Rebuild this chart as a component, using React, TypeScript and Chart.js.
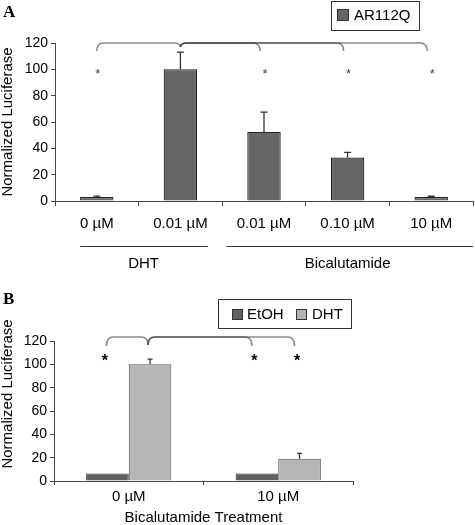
import React, { useEffect, useRef } from "react";
import { Chart, registerables } from "chart.js";

Chart.register(...registerables);

const FONT = "'Liberation Sans', Arial, Helvetica, sans-serif";
const SERIF = "'Liberation Serif', 'Times New Roman', serif";

// ---------- Panel A data ----------
const categoriesA = ["0 µM", "0.01 µM", "0.01 µM", "0.10 µM", "10 µM"];
const valuesA = [3, 100, 52.5, 33, 3];
const errorsA = [0.7, 13, 15, 4, 0.6];
const seriesNameA = "AR112Q";
const groupNamesA = ["DHT", "Bicalutamide"];
const groupSpanA = [
  [-0.2, 1.33, 0.56],
  [1.55, 4.5, 3.0],
];
const starsA = [0, 2, 3, 4];
const bracketsA = [
  [0, 1],
  [1, 2],
  [1, 3],
  [1, 4],
];

// ---------- Panel B data ----------
const categoriesB = ["0 µM", "10 µM"];
const seriesNamesB = ["EtOH", "DHT"];
const etohB = [6.5, 6.5];
const dhtB = [100, 19];
const etohErrB = [0, 0];
const dhtErrB = [4.4, 4.6];
// [datasetIndex, categoryIndex]
const starsB = [
  [0, 0],
  [0, 1],
  [1, 1],
];
const bracketsB = [
  [[0, 0], [1, 0]],
  [[1, 0], [0, 1]],
  [[1, 0], [1, 1]],
];

const yAxisTitle = "Normalized Luciferase";
const xAxisTitleB = "Bicalutamide Treatment";

function drawErrorBars(chart: any, ctx: CanvasRenderingContext2D, ds: number, errs: number[], capHalf: number) {
  const meta = chart.getDatasetMeta(ds);
  const ys = chart.scales.y;
  const vals = chart.data.datasets[ds].data as number[];
  ctx.strokeStyle = "#333";
  ctx.lineWidth = 1.3;
  meta.data.forEach((bar: any, i: number) => {
    const e = errs[i];
    if (!e) return;
    const top = ys.getPixelForValue(vals[i] + e);
    ctx.beginPath();
    ctx.moveTo(bar.x, bar.y);
    ctx.lineTo(bar.x, top);
    ctx.moveTo(bar.x - capHalf, top);
    ctx.lineTo(bar.x + capHalf, top);
    ctx.stroke();
  });
}

function drawBracket(ctx: CanvasRenderingContext2D, x1: number, x2: number, yTop: number, tip1: number, tip2: number, r: number) {
  ctx.beginPath();
  ctx.moveTo(x1, tip1);
  ctx.quadraticCurveTo(x1, yTop, x1 + r, yTop);
  ctx.lineTo(x2 - r, yTop);
  ctx.quadraticCurveTo(x2, yTop, x2, tip2);
  ctx.stroke();
}

const decorA = {
  id: "decorA",
  afterDraw(chart: any) {
    const ctx: CanvasRenderingContext2D = chart.ctx;
    const xs = chart.scales.x;
    const ys = chart.scales.y;
    const meta = chart.getDatasetMeta(0);
    ctx.save();
    drawErrorBars(chart, ctx, 0, errorsA, 3.5);

    // brackets
    ctx.strokeStyle = "rgba(60,60,60,0.6)";
    ctx.lineWidth = 1.6;
    const yTop = ys.getPixelForValue(120);
    bracketsA.forEach(([a, b]) => {
      const xa = meta.data[a].x;
      const xb = meta.data[b].x - (b > 1 ? 4 : 0);
      const tipA = ys.getPixelForValue(a === 1 ? 117 : 114);
      const tipB = ys.getPixelForValue(b === 1 ? 117 : 114);
      drawBracket(ctx, xa, xb, yTop, tipA, tipB, 7);
    });

    // stars
    ctx.fillStyle = "#444";
    ctx.font = `13px ${FONT}`;
    ctx.textAlign = "center";
    ctx.textBaseline = "middle";
    starsA.forEach((i) => {
      ctx.fillText("*", meta.data[i].x + 1, ys.getPixelForValue(98.7) + 3);
    });

    // group labels under the axis
    const x0 = xs.getPixelForValue(0);
    const step = xs.getPixelForValue(1) - x0;
    const lineY = xs.bottom - 29;
    ctx.strokeStyle = "#333";
    ctx.lineWidth = 1;
    ctx.fillStyle = "#000";
    ctx.font = `15px ${FONT}`;
    groupNamesA.forEach((name, g) => {
      const [f, t, c] = groupSpanA[g];
      ctx.beginPath();
      ctx.moveTo(x0 + f * step, lineY + 0.5);
      ctx.lineTo(x0 + t * step, lineY + 0.5);
      ctx.stroke();
      ctx.fillText(name, x0 + c * step, lineY + 18);
    });

    // legend
    ctx.strokeStyle = "#333";
    ctx.lineWidth = 1;
    ctx.strokeRect(331.5, 1.5, 88, 29);
    ctx.fillStyle = "#666";
    ctx.fillRect(337.5, 9.5, 11, 11);
    ctx.strokeRect(337.5, 9.5, 11, 11);
    ctx.fillStyle = "#000";
    ctx.textAlign = "left";
    ctx.font = `15px ${FONT}`;
    ctx.fillText(seriesNameA, 354, 16);

    // panel letter
    ctx.font = `bold 17px ${SERIF}`;
    ctx.textBaseline = "alphabetic";
    ctx.fillText("A", 3, 17);
    ctx.restore();
  },
};

const decorB = {
  id: "decorB",
  afterDraw(chart: any) {
    const ctx: CanvasRenderingContext2D = chart.ctx;
    const ys = chart.scales.y;
    const m0 = chart.getDatasetMeta(0);
    const m1 = chart.getDatasetMeta(1);
    const metas = [m0, m1];
    ctx.save();
    drawErrorBars(chart, ctx, 0, etohErrB, 2.5);
    drawErrorBars(chart, ctx, 1, dhtErrB, 2.5);

    ctx.strokeStyle = "rgba(60,60,60,0.6)";
    ctx.lineWidth = 1.6;
    const yTop = ys.getPixelForValue(123.4);
    bracketsB.forEach(([a, b]) => {
      const xa = metas[a[0]].data[a[1]].x - (a[1] === 0 && a[0] === 0 ? 1 : 2);
      const xb = metas[b[0]].data[b[1]].x - (b[1] === 1 ? 5 : 2);
      const tipA = ys.getPixelForValue(a[0] === 1 ? 116.5 : 115.7);
      const tipB = ys.getPixelForValue(b[0] === 1 && b[1] === 0 ? 116.5 : 115.7);
      drawBracket(ctx, xa, xb, yTop, tipA, tipB, 7);
    });

    ctx.fillStyle = "#000";
    ctx.font = `bold 16px ${FONT}`;
    ctx.textAlign = "center";
    ctx.textBaseline = "middle";
    starsB.forEach(([d, i]) => {
      ctx.fillText("*", metas[d].data[i].x - 2.5, ys.getPixelForValue(105.5) + 3.5);
    });

    // y axis title
    ctx.save();
    ctx.translate(8, 119);
    ctx.rotate(-Math.PI / 2);
    ctx.font = `15px ${FONT}`;
    ctx.fillText(yAxisTitle, 0, 0);
    ctx.restore();

    // legend
    ctx.strokeStyle = "#333";
    ctx.lineWidth = 1;
    ctx.strokeRect(218.5, 24.5, 133, 29);
    ctx.fillStyle = "#5f5f5f";
    ctx.fillRect(232.5, 34.5, 10, 10);
    ctx.strokeRect(232.5, 34.5, 10, 10);
    ctx.fillStyle = "#b5b5b5";
    ctx.fillRect(296.5, 34.5, 10, 10);
    ctx.strokeRect(296.5, 34.5, 10, 10);
    ctx.fillStyle = "#000";
    ctx.textAlign = "left";
    ctx.font = `15px ${FONT}`;
    ctx.fillText(seriesNamesB[0], 247, 40);
    ctx.fillText(seriesNamesB[1], 312, 40);

    ctx.font = `bold 17px ${SERIF}`;
    ctx.textBaseline = "alphabetic";
    ctx.fillText("B", 3, 29);
    ctx.restore();
  },
};

function axisCommon(tl: number) {
  return {
    grid: { drawOnChartArea: false, drawTicks: true, tickLength: tl, color: "#444", lineWidth: 1 },
    border: { display: true, color: "#444", width: 1 },
  };
}

export default function App() {
  const refA = useRef<HTMLCanvasElement>(null);
  const refB = useRef<HTMLCanvasElement>(null);

  useEffect(() => {
    const chartA = new Chart(refA.current!, {
      type: "bar",
      data: {
        labels: categoriesA,
        datasets: [
          {
            label: seriesNameA,
            data: valuesA,
            backgroundColor: "#666666",
            borderColor: "#222",
            borderWidth: 1.2,
            barPercentage: 0.4,
            categoryPercentage: 1,
          },
        ],
      },
      options: {
        animation: false,
        responsive: false,
        devicePixelRatio: 1,
        layout: { padding: { left: 0, right: 2, top: 43, bottom: 0 } },
        plugins: { legend: { display: false }, tooltip: { enabled: false } },
        scales: {
          x: {
            ...axisCommon(5),
            ticks: { color: "#000", font: { family: FONT, size: 15 }, padding: 9, maxRotation: 0, autoSkip: false },
            afterFit: (s: any) => {
              s.height = 74;
            },
          },
          y: {
            ...axisCommon(4),
            min: 0,
            max: 120,
            ticks: { stepSize: 20, color: "#000", font: { family: FONT, size: 14 }, padding: 3 },
            title: {
              display: true,
              text: yAxisTitle,
              color: "#000",
              font: { family: FONT, size: 15, lineHeight: 1.1 },
              padding: 0,
            },
            afterFit: (s: any) => {
              s.width = 55;
            },
          },
        },
      } as any,
      plugins: [decorA],
    });

    const chartB = new Chart(refB.current!, {
      type: "bar",
      data: {
        labels: categoriesB,
        datasets: [
          {
            label: seriesNamesB[0],
            data: etohB,
            backgroundColor: "#5f5f5f",
            borderColor: "#333",
            borderWidth: 1,
            barPercentage: 1,
            categoryPercentage: 0.57,
          },
          {
            label: seriesNamesB[1],
            data: dhtB,
            backgroundColor: "#b5b5b5",
            borderColor: "#555",
            borderWidth: 1,
            barPercentage: 1,
            categoryPercentage: 0.57,
          },
        ],
      },
      options: {
        animation: false,
        responsive: false,
        devicePixelRatio: 1,
        layout: { padding: { left: 0, right: 122, top: 66, bottom: 0 } },
        plugins: { legend: { display: false }, tooltip: { enabled: false } },
        scales: {
          x: {
            ...axisCommon(4),
            ticks: { color: "#000", font: { family: FONT, size: 15 }, padding: 3, maxRotation: 0, autoSkip: false },
            title: {
              display: true,
              text: xAxisTitleB,
              color: "#000",
              font: { family: FONT, size: 15, lineHeight: 1 },
              padding: 0,
            },
            afterFit: (s: any) => {
              s.height = 44;
            },
          },
          y: {
            ...axisCommon(4),
            min: 0,
            max: 120,
            ticks: { stepSize: 20, color: "#000", font: { family: FONT, size: 14 }, padding: 3 },
            afterFit: (s: any) => {
              s.width = 54;
            },
          },
        },
      } as any,
      plugins: [decorB],
    });

    return () => {
      chartA.destroy();
      chartB.destroy();
    };
  }, []);

  return (
    <div style={{ position: "absolute", left: 0, top: 0, width: 475, height: 525, background: "#fff" }}>
      <canvas
        ref={refA}
        width={475}
        height={275}
        style={{ position: "absolute", left: 0, top: 0, width: 475, height: 275 }}
      />
      <canvas
        ref={refB}
        width={475}
        height={250}
        style={{ position: "absolute", left: 0, top: 275, width: 475, height: 250 }}
      />
    </div>
  );
}
